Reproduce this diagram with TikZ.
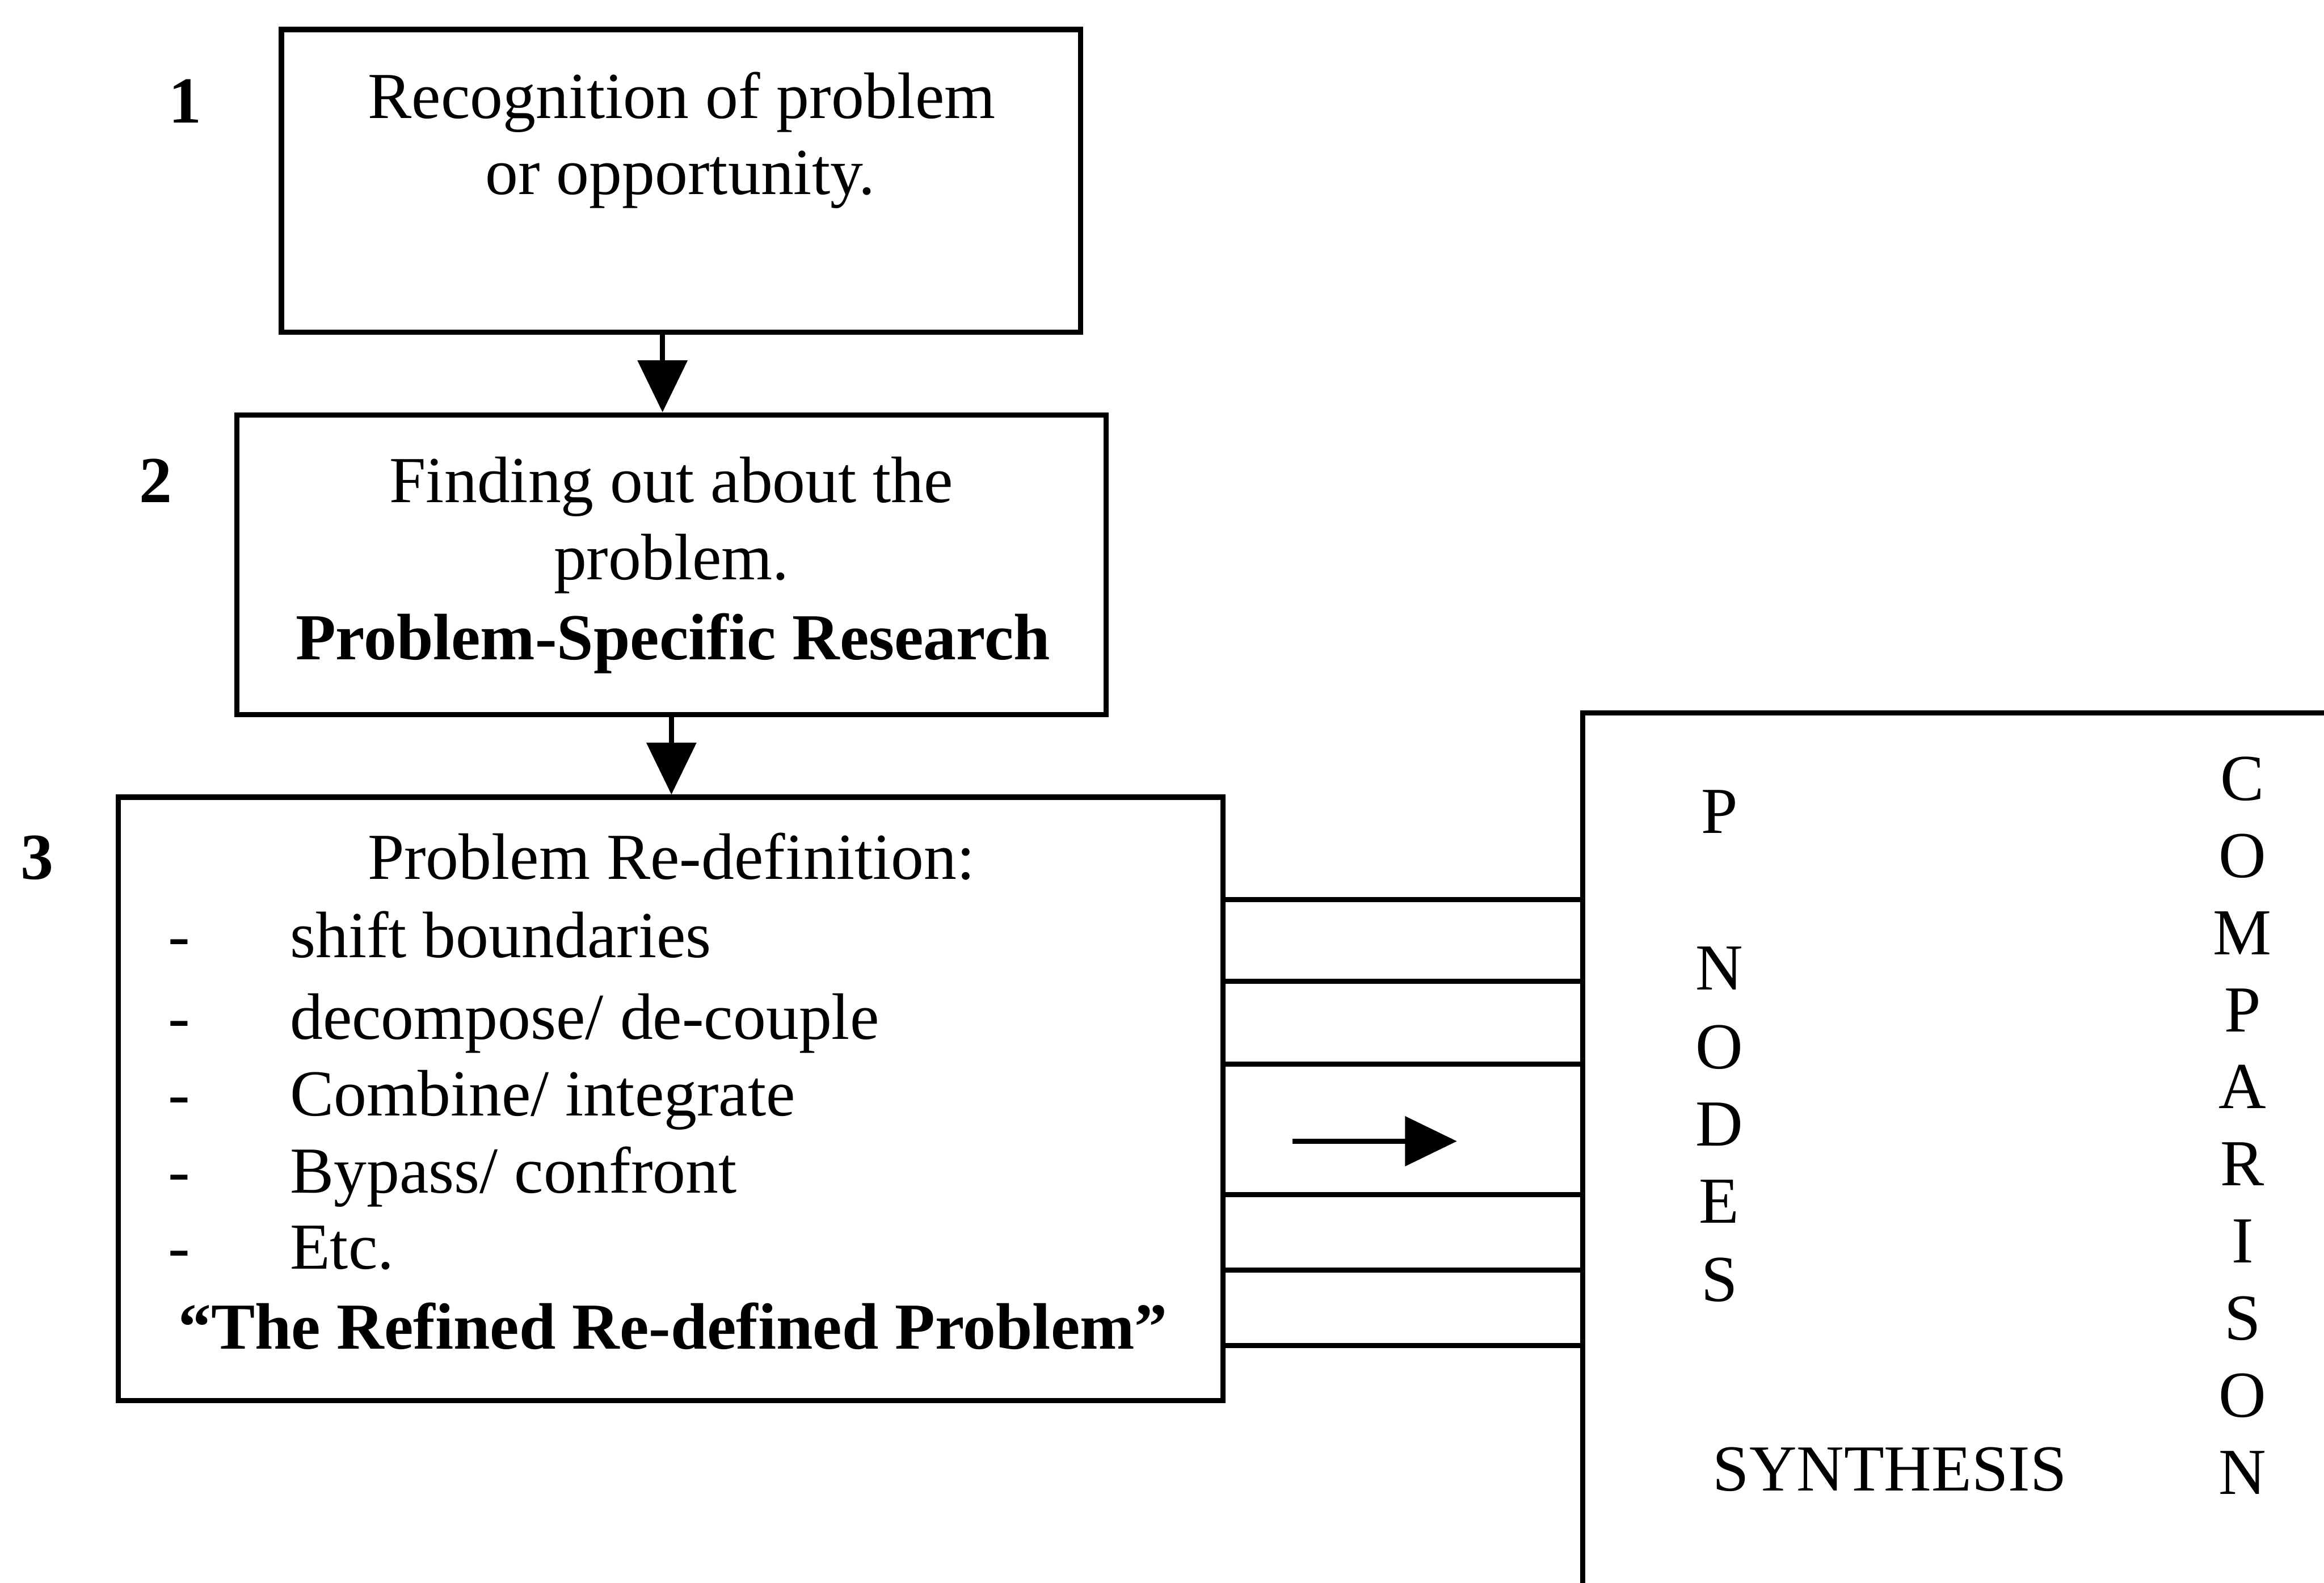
\documentclass[tikz,border=0pt]{standalone}
\usepackage{fontspec}
\setmainfont{Liberation Serif}
\usetikzlibrary{arrows.meta}
\begin{document}
\begin{tikzpicture}[x=0.01cm,y=-0.01cm,
  every node/.style={font=\fontsize{12.6pt}{14.9pt}\selectfont, inner sep=0pt},
  box/.style={draw, line width=1pt, rectangle},
  txt/.style={anchor=base},
  txtl/.style={anchor=base west},
  arr/.style={line width=1pt, -{Triangle[length=3.5mm,width=3.3mm]}},
  link/.style={line width=1pt}]
\useasboundingbox (0,0) rectangle (1568,1068);
% boxes
\node[box, minimum width=53.9mm, minimum height=20.4mm] (b1) at (459.5,122) {};
\node[box, minimum width=58.6mm, minimum height=20.2mm] (b2) at (453,381) {};
\node[box, minimum width=74.5mm, minimum height=40.7mm] (b3) at (452.5,741.5) {};
% numbers
\node[txt, font=\fontsize{12.6pt}{14.9pt}\selectfont\bfseries] (n1) at (125,83) {1};
\node[txt, font=\fontsize{12.6pt}{14.9pt}\selectfont\bfseries] (n2) at (105,339) {2};
\node[txt, font=\fontsize{12.6pt}{14.9pt}\selectfont\bfseries] (n3) at (25,593) {3};
% box 1 text
\node[txt] (t1a) at (460,80) {Recognition of problem};
\node[txt] (t1b) at (459,131) {or opportunity.};
% box 2 text
\node[txt] (t2a) at (453,339) {Finding out about the};
\node[txt] (t2b) at (453,391) {problem.};
\node[txt, font=\fontsize{12.6pt}{14.9pt}\selectfont\bfseries] (t2c) at (454,445) {Problem-Specific Research};
% box 3 text
\node[txt] (t3a) at (453,593) {Problem Re-definition:};
\foreach \y/\t [count=\i] in {646/{shift boundaries}, 701/{decompose/ de-couple}, 753/{Combine/ integrate}, 805/{Bypass/ confront}, 856/{Etc.}}{
  \node[txt] (d\i) at (121,\y) {-};
  \node[txtl] (l\i) at (195,\y) {\t};
}
\node[txt, font=\fontsize{12.6pt}{14.9pt}\selectfont\bfseries] (t3z) at (454,910) {``The Refined Re-defined Problem''};
% arrows between boxes
\draw[arr] (b1.south -| 447,0) -- (b2.north -| 447,0);
\draw[arr] (b2.south -| 453,0) -- (b3.north -| 453,0);
% right open box
\coordinate (rb1) at (1068,1080);
\coordinate (rb2) at (1068,481);
\coordinate (rb3) at (1580,481);
\draw[link] (rb1) -- (rb2) -- (rb3);
% connecting lines
\foreach \y [count=\i] in {607,662,718,806,857,908}{
  \draw[link] (b3.east |- 0,\y) -- (rb2 |- 0,\y);
}
% small arrow
\coordinate (a1) at (872,770);
\coordinate (a2) at (983,770);
\draw[arr] (a1) -- (a2);
% P NODES column
\node[txt] (p0) at (1160,562) {P};
\foreach \y/\l [count=\i] in {668/N,721/O,773/D,825/E,878/S}{
  \node[txt] (p\i) at (1160,\y) {\l};
}
\node[txt] (syn) at (1275,1006) {SYNTHESIS};
% COMPARISON column
\foreach \l [count=\i] in {C,O,M,P,A,R,I,S,O,N}{
  \node[txt] (c\i) at (1513,{540+52*(\i-1)}) {\l};
}
\end{tikzpicture}
\end{document}
